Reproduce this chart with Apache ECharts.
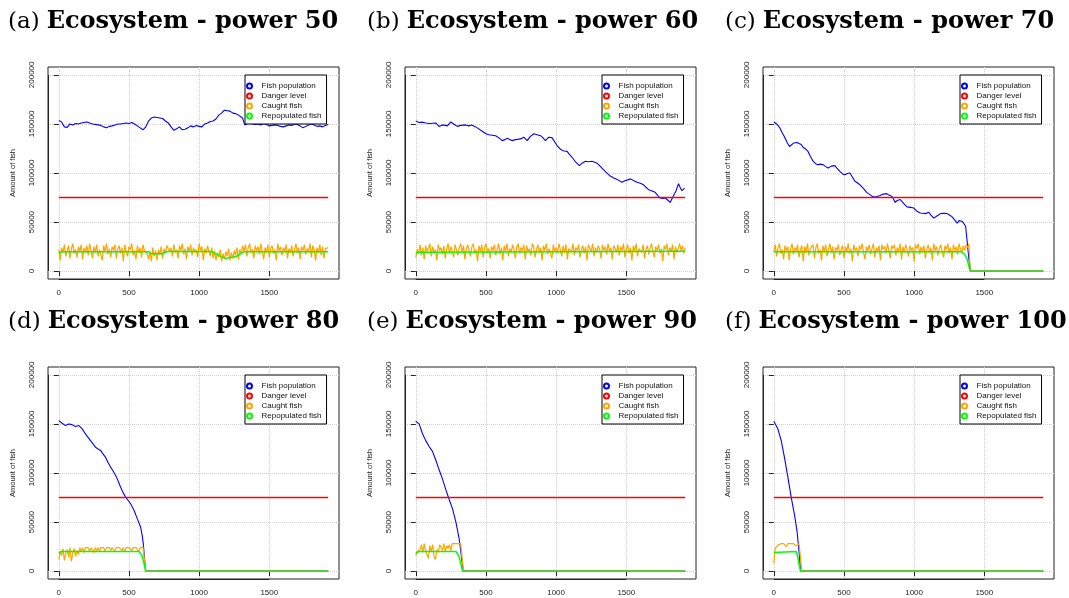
<!DOCTYPE html>
<html>
<head>
<meta charset="utf-8">
<script src="https://cdn.jsdelivr.net/npm/echarts@6/dist/echarts.min.js"></script>
<style>
  html, body { margin: 0; padding: 0; background: #fff; }
  #main { width: 1069px; height: 598px; }
</style>
</head>
<body>
<div id="main"></div>
<script>
// 时间轴终点 / 危险线 (单位: 千条)
var T_END = 1920;
var DANGER = 75;
var STEP = 10; // caught fish sampling step

var letters = ['a', 'b', 'c', 'd', 'e', 'f'];
var powers = [50, 60, 70, 80, 90, 100];
var xTicks = [0, 500, 1000, 1500];
var yTicks = [0, 50000, 100000, 150000, 200000];
var names = ['Fish population', 'Danger level', 'Caught fish', 'Repopulated fish'];
var colors = ['#0000ff', '#ff0000', '#ffa500', '#00ff00'];

// fish population, [time, thousands]
var fishA = [[0,153.6],[20,152],[40,147],[60,146.5],[80,150],[100,149],[120,150.5],[140,150],[160,151],[180,151.5],[200,152],[220,151],[240,150],[260,149.5],[280,149],[300,148.5],[320,147],[340,146],[360,147.5],[380,148],[400,149],[420,150],[440,150],[460,150.5],[480,151],[500,150.5],[520,151.5],[540,150],[560,148],[580,146],[600,144],[620,147],[640,153],[660,156],[680,157],[700,156.5],[720,156],[740,155.5],[760,153],[780,151],[800,147],[820,143.5],[840,145],[860,147],[880,144],[900,144.5],[920,146],[940,148],[960,147],[980,148.5],[1000,147.5],[1020,147],[1040,150],[1060,151],[1080,152.5],[1100,153],[1120,155],[1140,159],[1160,161],[1180,164],[1200,163.5],[1220,163],[1240,161],[1260,160.5],[1280,159],[1310,156],[1325,149],[1340,150],[1360,151],[1380,150],[1400,149.5],[1420,150],[1440,149],[1460,150.5],[1480,149.5],[1500,148],[1520,148.5],[1540,149],[1560,148.5],[1580,147.5],[1600,147],[1620,148],[1640,149],[1660,148.5],[1680,150],[1700,149.5],[1720,148],[1740,146],[1760,147.5],[1780,149],[1800,150],[1820,149],[1840,147.5],[1860,148],[1880,147],[1900,148.5],[1920,149.5]];
var fishB = [[0,153],[24,151.5],[50,151.8],[71,151],[100,150.5],[142,151],[166,147.5],[190,149],[210,148.5],[225,148],[249,152],[270,150],[296,147.5],[320,148.5],[355,149],[378,148],[398,149],[420,147.5],[438,146],[474,142.5],[500,140],[521,139],[545,138.5],[569,138],[590,136],[616,133],[635,134],[652,135.5],[670,134],[687,133],[710,134],[735,134.5],[750,135],[770,136.5],[794,133],[815,137],[841,140],[865,139],[889,138],[905,136],[924,133],[948,136.5],[970,136],[984,135],[1007,128],[1025,125],[1043,123],[1060,122.5],[1078,122],[1095,119],[1114,116],[1140,111],[1166,107.5],[1185,110],[1209,112],[1230,111.5],[1256,112],[1275,111],[1292,110],[1320,106],[1351,101.5],[1380,97.5],[1410,95],[1440,93],[1469,90.5],[1490,92],[1510,93],[1529,94],[1555,92],[1576,90.5],[1600,89.5],[1623,88],[1640,85.5],[1659,83],[1680,82],[1706,80.3],[1725,77],[1742,74.5],[1760,74],[1778,74.5],[1795,72.5],[1813,70],[1825,72],[1837,77],[1855,82],[1872,89],[1885,85],[1896,82],[1915,84.5]];
var fishC = [[0,152],[20,150],[41,146.5],[60,141],[76,137],[95,131],[112,127],[125,129],[141,130.5],[165,131],[180,130],[196,129],[210,126],[227,124.5],[244,122],[260,117],[280,112],[298,109.5],[315,108.5],[335,109],[351,108.5],[370,106.5],[387,105],[410,107],[435,107.5],[450,105],[471,101.7],[490,99],[507,98.3],[525,99.5],[542,100],[560,96],[578,91.5],[595,90],[614,88],[640,84],[662,80.3],[685,78],[710,75.6],[735,76],[758,77],[780,78.5],[805,79],[820,77.5],[841,76.3],[855,73],[865,70],[880,72],[901,73],[925,69],[949,65.5],[975,65],[997,64.4],[1020,61],[1044,59.3],[1060,59],[1080,58.6],[1104,60],[1120,57],[1140,54],[1165,56.5],[1188,58.6],[1210,59],[1236,58.6],[1255,57],[1271,55.3],[1290,52],[1307,49],[1320,51.5],[1331,52.5],[1345,50.5],[1355,51],[1367,45.8],[1379,28.7],[1391,11.6],[1403,0]];
var fishD = [[0,153.4],[12,152],[24,150.7],[48,148.3],[60,149],[71,150],[95,149.3],[119,147.3],[143,148.3],[167,145],[190,139.8],[210,136],[226,133],[262,126.3],[280,124.5],[298,123],[315,119.5],[333,116.1],[350,111],[369,106],[387,102],[405,97.5],[420,93],[440,85.7],[458,80],[476,75.5],[495,72],[512,68.7],[536,62],[559,53.5],[583,45],[595,36],[602,28.1],[612,11.2],[619,0]];
var fishE = [[0,152.7],[10,152],[24,150],[48,140],[71,133],[95,127],[119,122],[143,113],[167,103],[190,94],[214,83],[238,73],[262,63.5],[286,50],[309,33],[321,20],[333,6],[338,0]];
var fishF = [[0,152.7],[10,151.5],[29,145],[53,133],[76,116],[100,96],[124,75.5],[148,57],[165,41.6],[179,21],[191,0]];

// caught fish, thousands, one value every STEP
var caughtA = [22,11,24,19,27,15,21,26,13,23,28,18,22,14,25,20,27,12,24,19,26,16,28,21,13,25,19,27,15,22,24,11,26,20,28,17,23,14,25,21,27,13,22,26,18,24,10,27,20,15,25,22,28,16,21,12,26,19,24,14,27,21,23,18,
  12,20,10,24,15,21,11,22,17,25,13,23,18,26,
  28,20,24,15,27,19,22,13,26,21,28,17,23,12,25,20,27,16,24,19,22,14,28,21,25,11,23,18,26,20,15,24,
  13,21,11,19,14,22,10,18,12,20,15,23,11,19,13,21,16,24,12,22,18,26,
  20,27,15,24,28,19,22,13,26,21,25,17,28,20,12,24,19,27,14,23,26,18,22,11,28,21,25,16,24,20,27,13,23,19,26,15,22,28,18,24,12,25,21,27,17,23,20,28,14,26,22,11,24,19,27,16,25,13,23,21,24];
var caughtB = [14,22,18,27,16,24,12,26,20,23,28,15,25,19,22,11,27,21,24,17,26,13,23,28,18,25,20,14,27,22,16,24,28,19,26,12,23,27,21,15,
  25,28,18,22,10,26,20,27,14,24,28,19,23,13,25,21,27,16,22,28,17,24,11,26,20,28,15,23,19,27,22,13,25,28,18,24,21,27,12,26,
  20,23,16,28,25,14,22,27,19,24,11,26,21,28,17,23,25,13,27,20,24,18,28,22,15,26,19,27,12,23,25,20,28,16,24,21,27,14,22,26,
  18,25,11,27,23,20,28,15,24,19,26,22,13,27,21,25,17,28,20,24,12,26,23,19,27,16,25,21,28,14,22,27,18,24,11,26,20,28,15,23,
  25,19,27,13,22,26,17,24,28,20,14,25,21,27,18,23,10,26,22,28,16,24,20,27,12,25,19,23,28,21,26,18,24];
var caughtC = [20,27,15,24,28,18,22,12,26,21,25,11,23,28,17,24,20,27,14,22,26,10,25,19,28,16,23,21,27,13,24,28,18,22,11,26,20,27,15,23,
  28,19,25,12,24,21,27,16,22,26,13,25,20,28,18,23,10,27,21,24,15,26,22,28,19,12,25,21,27,17,23,28,14,24,20,26,11,27,22,25,
  18,28,21,13,26,23,27,16,24,20,28,12,25,19,27,22,15,26,21,24,10,27,23,28,17,25,20,26,13,22,27,19,24,11,28,21,25,16,23,27,
  20,14,26,22,28,18,24,12,27,21,25,17,28,23,19,26,21,27,24,28,0];
var caughtD = [12,20,16,23,11,18,22,14,24,10,19,23,15,21,17,24,20,24,19,24,22,24,20,24,23,19,24,21,24,20,24,22,24,20,24,23,24,21,24,24,
  20,24,22,24,24,21,24,20,24,23,24,24,21,24,22,24,24,20,24,24,24.5,24.5,0];
var caughtE = [16,20,18,22,27,19,28,21,17,13,26,20,27,15,12,22,19,27,25,21,28,20,26,23,27,21,28,26,28,28,28,28,28,28,0];
var caughtF = [8,23,25,26.5,27,28,28,28,28,25,28,28,28,28,28,28,26,28,28,28,0];

// repopulated fish, [time, thousands]
var repopA = [[0,18.5],[20,19.8],[640,19.8],[650,18.5],[660,17.8],[740,17.8],[760,19.5],[780,20],[1080,20],[1100,19.2],[1130,16.8],[1160,14.5],[1190,13],[1220,14],[1250,14.5],[1270,15.5],[1285,16.8],[1305,18.5],[1320,19.8],[1920,19.8]];
var repopB = [[0,18.5],[20,19.3],[1000,19.8],[1920,20.3]];
var repopC = [[0,19.8],[1340,19.8],[1350,19],[1360,17],[1370,14.5],[1380,11],[1390,5],[1400,0]];
var repopD = [[0,18.6],[15,20],[571,20],[585,17.5],[595,14.6],[607,8],[619,0]];
var repopE = [[0,18],[20,20],[286,20],[298,17.5],[309,14.6],[322,7],[333,0]];
var repopF = [[0,19],[10,20],[160,20],[170,15],[179,7.8],[191,0]];

var fish = [fishA, fishB, fishC, fishD, fishE, fishF];
var caught = [caughtA, caughtB, caughtC, caughtD, caughtE, caughtF];
var repop = [repopA, repopB, repopC, repopD, repopE, repopF];

// after the collapse everything stays at zero till the end of the run
function withTail(pts) {
  var last = pts[pts.length - 1];
  if (last[1] === 0 && last[0] < T_END) pts.push([T_END, 0]);
  return pts;
}
function fromPairs(list) {
  return withTail(list.map(function (p) { return [p[0], p[1] * 1000]; }));
}
function fromSteps(list) {
  return withTail(list.map(function (v, i) { return [i * STEP, v * 1000]; }));
}
function plain(v) { return String(v); }

// danger level: one segment [start, level, end], placed through the axes
function renderDanger(params, api) {
  var a = api.coord([api.value(0), api.value(1)]);
  var b = api.coord([api.value(2), api.value(1)]);
  return {
    type: 'line',
    shape: { x1: a[0], y1: a[1], x2: b[0], y2: b[1] },
    style: { stroke: colors[1], lineWidth: 1.6 }
  };
}

var X_MIN = -76.8, X_MAX = 1996.8, Y_MIN = -8000, Y_MAX = 208000;
var colLeft = [48, 405, 763];
var rowTop = [67, 367];
var gridW = 291, gridH = 212;
var titleLeft = [8, 367, 725];
var titleTop = [10, 310];
var axisFont = 'Liberation Sans';
var titleFont = 'DejaVu Serif';

// R draws the axis line from first to last tick on top of the box
var axisSegments = {
  symbol: 'none', silent: true, label: { show: false },
  lineStyle: { color: '#222', type: 'solid', width: 1 },
  data: [
    [{ coord: [xTicks[0], Y_MIN] }, { coord: [xTicks[xTicks.length - 1], Y_MIN] }],
    [{ coord: [X_MIN, yTicks[0]] }, { coord: [X_MIN, yTicks[yTicks.length - 1]] }]
  ]
};

var option = {
  animation: false,
  backgroundColor: '#fff',
  title: [], grid: [], xAxis: [], yAxis: [], legend: [], series: []
};

for (var i = 0; i < 6; i++) {
  var c = i % 3, r = Math.floor(i / 3);
  option.title.push({
    text: '{r|(' + letters[i] + ')}{b|Ecosystem - power ' + powers[i] + '}',
    left: titleLeft[c], top: titleTop[r], padding: 0,
    textStyle: {
      rich: {
        r: { fontFamily: titleFont, fontSize: 23, fontWeight: 'normal', color: '#000', padding: [0, 7, 0, 0] },
        b: { fontFamily: titleFont, fontSize: 24, fontWeight: 'bold', color: '#000' }
      }
    }
  });
  option.grid.push({
    left: colLeft[c], top: rowTop[r], width: gridW, height: gridH,
    show: true, borderColor: '#222', borderWidth: 1, backgroundColor: 'transparent'
  });
  option.xAxis.push({
    type: 'value', gridIndex: i, min: X_MIN, max: X_MAX,
    axisLine: { show: false },
    axisTick: { show: true, customValues: xTicks, length: 5, lineStyle: { color: '#222' } },
    axisLabel: { customValues: xTicks, formatter: plain, margin: 10, fontFamily: axisFont, fontSize: 8, color: '#222' },
    splitLine: { show: true, lineStyle: { color: '#d0d0d0', type: 'dotted', width: 1 } }
  });
  option.yAxis.push({
    type: 'value', gridIndex: i, min: Y_MIN, max: Y_MAX,
    name: 'Amount of fish', nameLocation: 'middle', nameRotate: 90, nameGap: 31,
    nameTextStyle: { fontFamily: axisFont, fontSize: 7.5, color: '#222' },
    axisLine: { show: false },
    axisTick: { show: true, customValues: yTicks, length: 5, lineStyle: { color: '#222' } },
    axisLabel: { customValues: yTicks, formatter: plain, rotate: 90, margin: 12, fontFamily: axisFont, fontSize: 8, color: '#222' },
    splitLine: { show: true, lineStyle: { color: '#d0d0d0', type: 'dotted', width: 1 } }
  });
  option.legend.push({
    data: names, orient: 'vertical',
    left: colLeft[c] + 197, top: rowTop[r] + 8,
    icon: 'emptyCircle', itemWidth: 12, itemHeight: 5, itemGap: 2,
    padding: [7, 5, 4, 1],
    borderColor: '#000', borderWidth: 1, borderRadius: 0, backgroundColor: '#fff',
    itemStyle: { borderWidth: 1 },
    textStyle: { fontFamily: axisFont, fontSize: 8, color: '#111', padding: [0, 0, 0, 1] },
    selectedMode: false, z: 30
  });
  var lines = [
    fromPairs(fish[i]),
    null,
    fromSteps(caught[i]),
    fromPairs(repop[i])
  ];
  for (var s = 0; s < 4; s++) {
    var ser;
    if (s === 1) {
      ser = {
        name: names[s], type: 'custom', xAxisIndex: i, yAxisIndex: i,
        data: [[0, DANGER * 1000, T_END]],
        renderItem: renderDanger,
        color: colors[s], itemStyle: { color: colors[s] },
        z: 20, clip: false, silent: true
      };
    } else {
      ser = {
        name: names[s], type: 'line', xAxisIndex: i, yAxisIndex: i,
        data: lines[s], showSymbol: false, symbol: 'emptyCircle',
        color: colors[s], z: 10 + s, clip: false,
        lineStyle: { color: colors[s], width: s === 3 ? 1.5 : (s === 2 ? 1.2 : 1.1) },
        itemStyle: { color: colors[s] },
        silent: true
      };
    }
    if (s === 0) ser.markLine = axisSegments;
    option.series.push(ser);
  }
}

var chart = echarts.init(document.getElementById('main'));
chart.setOption(option);
</script>
</body>
</html>
